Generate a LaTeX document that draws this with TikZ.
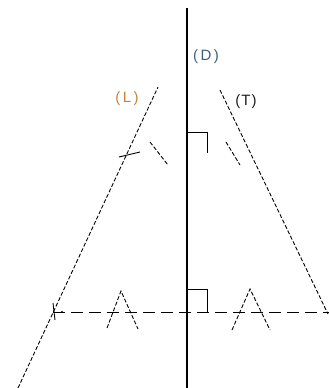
\documentclass[tikz,border=0pt]{standalone}
\usepackage{fontspec}
\setmainfont{Liberation Sans}
\newcommand{\spc}{\kern2.5pt}
\begin{document}
\begin{tikzpicture}[x=1pt,y=-1pt,
  thinline/.style={line width=0.9pt, dash pattern=on 4pt off 2pt},
  hline/.style={line width=0.9pt, dash pattern=on 12pt off 6pt},
  solidmark/.style={line width=0.9pt},
  lbl/.style={font=\fontsize{15}{17}\selectfont, inner sep=0pt}]
\useasboundingbox (0,0) rectangle (329,388);
% coordinates
\coordinate (Dtop) at (187,8);
\coordinate (Dbot) at (187,388);
\coordinate (Ltop) at (158,87);
\coordinate (Lbot) at (18,388);
\coordinate (Ttop) at (220,90);
\coordinate (Tbot) at (328,314);
\coordinate (Hl) at (53,312);
\coordinate (Hr) at (329,312);
% main line D
\draw[line width=2.6pt] (Dtop) -- (Dbot);
% lines L and T
\draw[thinline] (Lbot) -- (Ltop);
\draw[thinline] (Ttop) -- (Tbot);
% horizontal dashed line
\draw[hline] (Hl) -- (Hr);
% right angle marks
\draw[solidmark] (187,132) -- (207,132) -- (207,153);
\draw[solidmark] (187,289) -- (207,289) -- (207,312);
% construction marks near top
\draw[thinline] (150,142) -- (168,165);
\draw[thinline] (226,142) -- (240,165);
\draw[solidmark] (119,157) -- (140,152);
% cross at left intersection
\draw[solidmark] (53,303) -- (55,320);
\fill (62,312) circle (1.2pt);
% A marks
\draw[thinline] (107,328) -- (121,291) -- (138,329);
\draw[thinline] (232,330) -- (250,289) -- (270,330);
% labels
\node[lbl, text={rgb,255:red,60;green,95;blue,125}] (D) at (206,57) {(\spc D\spc)};
\node[lbl, text={rgb,255:red,200;green,130;blue,60}] (L) at (127,99) {(\spc L\spc)};
\node[lbl, text={rgb,255:red,30;green,30;blue,30}] (T) at (246,102) {(\kern1pt T\kern1pt)};
\end{tikzpicture}
\end{document}
